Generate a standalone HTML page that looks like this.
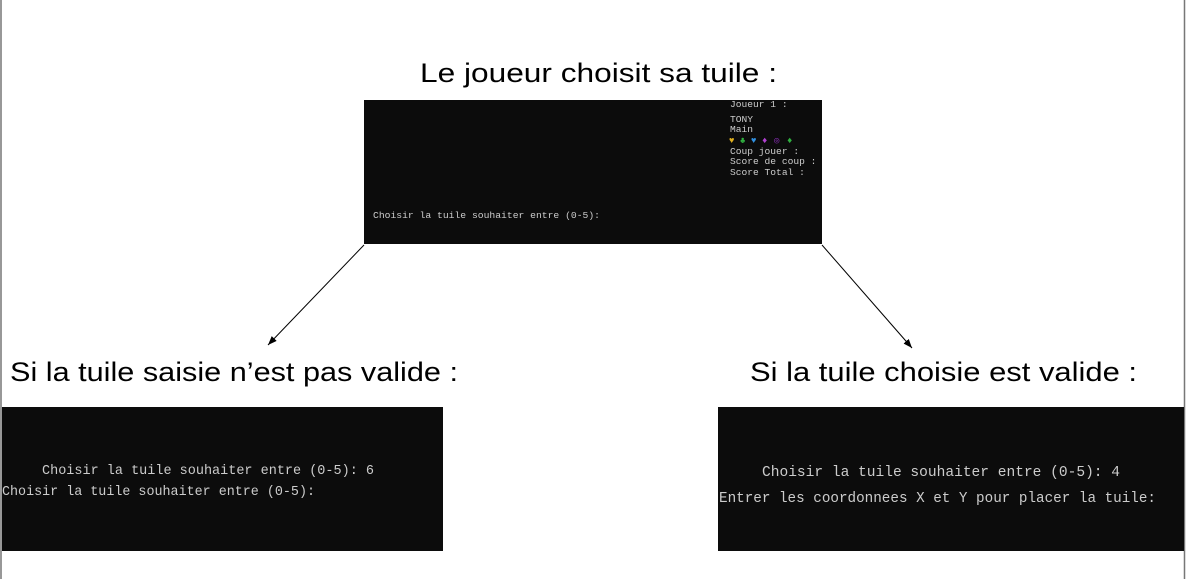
<!DOCTYPE html>
<html><head><meta charset="utf-8"><style>
html,body{margin:0;padding:0;background:#fff}
body{width:1186px;height:579px;position:relative;overflow:hidden}
svg{position:absolute;left:0;top:0}
</style></head><body>
<svg width="1186" height="579" viewBox="0 0 1186 579" xmlns="http://www.w3.org/2000/svg">
<defs><marker id="a" markerWidth="10" markerHeight="10" refX="9" refY="5" orient="auto" markerUnits="userSpaceOnUse"><path d="M0,1.5 L9,5 L0,8.5 z" fill="#000"/></marker></defs>
<line x1="1" y1="0" x2="1" y2="579" stroke="#777" stroke-width="1.5"/>
<line x1="1184.5" y1="0" x2="1184.5" y2="579" stroke="#777" stroke-width="1.5"/>
<g font-family="Liberation Sans, sans-serif" fill="#000">
<text x="420" y="82" font-size="27" textLength="357" lengthAdjust="spacingAndGlyphs">Le joueur choisit sa tuile :</text>
<text x="10" y="381" font-size="27" textLength="448" lengthAdjust="spacingAndGlyphs">Si la tuile saisie n’est pas valide :</text>
<text x="750" y="381" font-size="27" textLength="387" lengthAdjust="spacingAndGlyphs">Si la tuile choisie est valide :</text>
</g>
<rect x="364" y="100" width="458" height="144" fill="#0c0c0c"/>
<rect x="2" y="407" width="441" height="144" fill="#0c0c0c"/>
<rect x="718" y="407" width="466" height="144" fill="#0c0c0c"/>
<line x1="364" y1="245" x2="268" y2="345" stroke="#000" stroke-width="1" marker-end="url(#a)"/>
<line x1="822" y1="245" x2="912" y2="348" stroke="#000" stroke-width="1" marker-end="url(#a)"/>
<g font-family="Liberation Mono, monospace" fill="#ccc">
<text x="373" y="218" font-size="9.6" textLength="227" lengthAdjust="spacingAndGlyphs">Choisir la tuile souhaiter entre (0-5):</text>
<g font-size="9.6">
<text x="730" y="107">Joueur 1 :</text>
<text x="730" y="122">TONY</text>
<text x="730" y="132">Main</text>
<text x="730" y="154">Coup jouer :</text>
<text x="730" y="164">Score de coup :</text>
<text x="730" y="175">Score Total :</text>
</g>
<g font-size="9">
<text x="729" y="143" fill="#e0b020">♥</text>
<text x="740" y="143" fill="#30b040">♣</text>
<text x="751" y="143" fill="#3090e0">♥</text>
<text x="762" y="143" fill="#b040d0">♦</text>
<text x="774" y="143" fill="#9030c0">◎</text>
<text x="787" y="143" fill="#30b040">♦</text>
</g>
<text x="42" y="474" font-size="14" textLength="332" lengthAdjust="spacingAndGlyphs">Choisir la tuile souhaiter entre (0-5): 6</text>
<text x="2" y="495" font-size="14" textLength="313" lengthAdjust="spacingAndGlyphs">Choisir la tuile souhaiter entre (0-5):</text>
<text x="762" y="476" font-size="14.5" textLength="358" lengthAdjust="spacingAndGlyphs">Choisir la tuile souhaiter entre (0-5): 4</text>
<text x="719" y="502" font-size="14.5" textLength="437" lengthAdjust="spacingAndGlyphs">Entrer les coordonnees X et Y pour placer la tuile:</text>
</g>
</svg>
</body></html>
